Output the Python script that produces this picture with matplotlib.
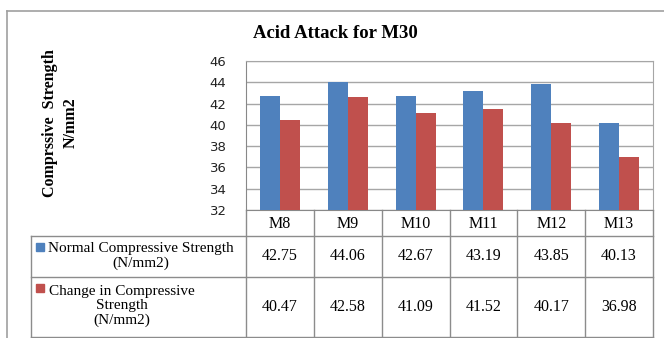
import matplotlib
matplotlib.use("Agg")
import matplotlib.pyplot as plt
import matplotlib.transforms as mtransforms
from matplotlib.patches import Rectangle
from matplotlib.lines import Line2D
import numpy as np

# data
mixes = ["M8", "M9", "M10", "M11", "M12", "M13"]
normal_strength = [42.75, 44.06, 42.67, 43.19, 43.85, 40.13]
change_strength = [40.47, 42.58, 41.09, 41.52, 40.17, 36.98]
series_labels = ["Normal Compressive Strength\n(N/mm2)",
                 "Change in Compressive\nStrength\n(N/mm2)"]
y_ticks = [32, 34, 36, 38, 40, 42, 44, 46]

W, H = 664, 338
BLUE = "#4F81BD"
RED = "#C0504D"
GRID = "#A6A6A6"
SERIF = "Liberation Serif"

fig = plt.figure(figsize=(W / 100, H / 100), dpi=100)

def fx(px):
    return px / W

def fy(py):
    return 1 - py / H

# plot area in pixels
left, right, top, bottom = 246, 653, 61, 210
ax = fig.add_axes([fx(left), fy(bottom), fx(right - left), (bottom - top) / H])

x = np.arange(len(mixes))
w = 0.295
ax.bar(x - w / 2, normal_strength, w, color=BLUE, zorder=3)
ax.bar(x + w / 2, change_strength, w, color=RED, zorder=3)

ax.set_xlim(-0.5, len(mixes) - 0.5)
ax.set_ylim(32, 46)
ax.set_yticks(y_ticks)
ax.set_xticks([])
ax.tick_params(axis="y", length=0, labelsize=9.5, pad=14, colors="#222222")
ax.yaxis.grid(True, color=GRID, linewidth=1)
for s in ax.spines.values():
    s.set_color(GRID)
ax.spines["left"].set_color("#888888")
ax.spines["bottom"].set_color("#888888")

fig.text(fx(335), fy(34), "Acid Attack for M30", ha="center", va="center",
         family=SERIF, fontsize=13.5, fontweight="bold")
fig.text(fx(60), fy(123), "Comprssive  Strength\nN/mm2", ha="center", va="center",
         rotation=90, family=SERIF, fontsize=11.5, fontweight="bold", linespacing=1.4)

# data table below the axis
trans = mtransforms.blended_transform_factory(ax.transData, fig.transFigure)
row_top, row1, row2, row_bot = 210, 236, 277, 337
tab_left = 31
lc = "#8C8C8C"

def hline(py, x0px, x1px):
    fig.add_artist(Line2D([fx(x0px), fx(x1px)], [fy(py), fy(py)], color=lc, lw=1))

def vline(pxx, y0, y1):
    fig.add_artist(Line2D([fx(pxx), fx(pxx)], [fy(y0), fy(y1)], color=lc, lw=1))

for py in (row1, row2, row_bot):
    hline(py, tab_left, right)
vline(tab_left, row1, row_bot)
for i in range(len(mixes) + 1):
    ax.add_line(Line2D([i - 0.5, i - 0.5], [fy(row_top), fy(row_bot)], color=lc,
                       lw=1, transform=trans, clip_on=False))

for i, m in enumerate(mixes):
    ax.text(i, fy((row_top + row1) / 2 + 1), m, transform=trans, ha="center", va="center",
            family=SERIF, fontsize=11.5)
    ax.text(i, fy((row1 + row2) / 2), f"{normal_strength[i]:.2f}", transform=trans,
            ha="center", va="center", family=SERIF, fontsize=11.5)
    ax.text(i, fy((row2 + row_bot) / 2), f"{change_strength[i]:.2f}", transform=trans,
            ha="center", va="center", family=SERIF, fontsize=11.5)

# legend cells
fig.add_artist(Rectangle((fx(36), fy(251)), 8 / W, 8 / H, color=BLUE))
fig.text(fx(141), fy(row1 + 20), series_labels[0], ha="center", va="center",
         family=SERIF, fontsize=11, linespacing=1.15)
fig.add_artist(Rectangle((fx(36), fy(292)), 8 / W, 8 / H, color=RED))
fig.text(fx(122), fy(row2 + 29), series_labels[1], ha="center", va="center",
         family=SERIF, fontsize=11, linespacing=1.15)

# outer chart frame (clipped by image edges)
frame = "#A0A0A0"
fig.add_artist(Line2D([fx(7), fx(7)], [fy(11), 0], color=frame, lw=1.2))
fig.add_artist(Line2D([fx(7), 1], [fy(11), fy(11)], color=frame, lw=1.2))

fig.savefig("out.png", dpi=100)
